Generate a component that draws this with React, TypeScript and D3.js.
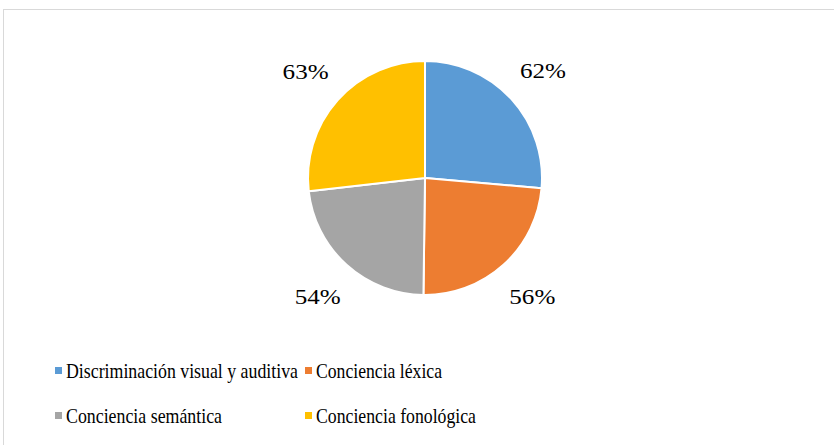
import * as d3 from "d3";
import React from "react";
import { useRef, useEffect } from "react";

const categories = [
  "Discriminación visual y auditiva",
  "Conciencia léxica",
  "Conciencia semántica",
  "Conciencia fonológica",
];
const values = [62, 56, 54, 63];
const colors = ["#5b9bd5", "#ed7d31", "#a5a5a5", "#ffc000"];

// measured text widths in the reference (px), so layout holds whatever font loads
const legendWidths = [232, 126, 156, 160];
const labelWidth = 46;

type Datum = { name: string; value: number };

const PieChart = ({
  svgWidth = 834,
  svgHeight = 445,
  cx = 425,
  cy = 178,
  radius = 117,
  labelRadius = 160,
  fontSize = 22,
}) => {
  const svgRef = useRef(null);

  useEffect(() => {
    d3.select(svgRef.current).selectAll("*").remove();

    const svg = d3
      .select(svgRef.current)
      .attr("width", svgWidth)
      .attr("height", svgHeight);

    svg
      .append("rect")
      .attr("x", 3.5)
      .attr("y", 9.5)
      .attr("width", svgWidth + 20)
      .attr("height", svgHeight + 20)
      .attr("fill", "#fff")
      .attr("stroke", "#d9d9d9");

    const data: Datum[] = categories.map((name, i) => ({
      name,
      value: values[i],
    }));

    const arcs = d3
      .pie<Datum>()
      .value((d) => d.value)
      .sort(null)(data);

    const arc = d3
      .arc<d3.PieArcDatum<Datum>>()
      .innerRadius(0)
      .outerRadius(radius);

    const labelArc = d3
      .arc<d3.PieArcDatum<Datum>>()
      .innerRadius(labelRadius)
      .outerRadius(labelRadius);

    svg
      .append("g")
      .attr("transform", `translate(${cx},${cy})`)
      .selectAll("path")
      .data(arcs)
      .join("path")
      .attr("d", arc)
      .attr("fill", (_d, i) => colors[i])
      .attr("stroke", "#fff")
      .attr("stroke-width", 2)
      .attr("stroke-linejoin", "round");

    // percent labels
    svg
      .selectAll("text.pct")
      .data(arcs)
      .join("text")
      .attr("class", "pct")
      .attr("x", (d) => cx + labelArc.centroid(d)[0] - labelWidth / 2)
      .attr("y", (d) => cy + labelArc.centroid(d)[1])
      .attr("dy", "0.35em")
      .attr("font-size", fontSize)
      .attr("textLength", labelWidth)
      .attr("lengthAdjust", "spacingAndGlyphs")
      .attr("fill", "#000")
      .style("font-family", "'Times New Roman'")
      .text((d) => `${d.data.value}%`);

    // legend
    const colX = [55, 305];
    const rowY = [378, 423];

    svg
      .selectAll("rect.key")
      .data(data)
      .join("rect")
      .attr("class", "key")
      .attr("x", (_d, i) => colX[i % 2])
      .attr("y", (_d, i) => rowY[Math.floor(i / 2)] - 11)
      .attr("width", 7)
      .attr("height", 7)
      .attr("fill", (_d, i) => colors[i]);

    svg
      .selectAll("text.key")
      .data(data)
      .join("text")
      .attr("class", "key")
      .attr("x", (_d, i) => colX[i % 2] + 11)
      .attr("y", (_d, i) => rowY[Math.floor(i / 2)])
      .attr("font-size", fontSize)
      .attr("textLength", (_d, i) => legendWidths[i])
      .attr("lengthAdjust", "spacingAndGlyphs")
      .attr("fill", "#000")
      .style("font-family", "'Times New Roman'")
      .text((d) => d.name);
  }, [svgWidth, svgHeight, cx, cy, radius, labelRadius, fontSize]);

  return (
    <svg
      ref={svgRef}
      style={{ position: "absolute", left: 0, top: 0, display: "block" }}
    ></svg>
  );
};

export default function App() {
  return <PieChart />;
}
